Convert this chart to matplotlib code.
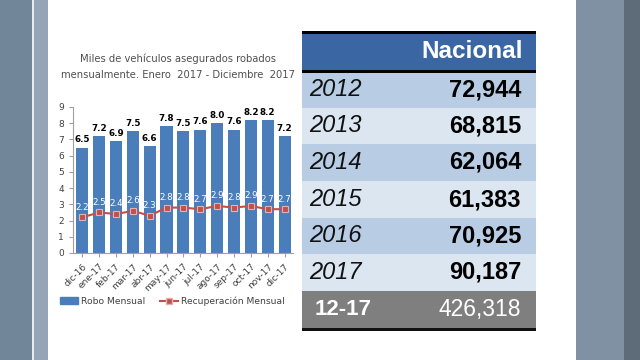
import matplotlib
matplotlib.use("Agg")
import matplotlib.pyplot as plt
from matplotlib.patches import Rectangle
from matplotlib.lines import Line2D

# chart data
months = ["dic-16", "ene-17", "feb-17", "mar-17", "abr-17", "may-17", "jun-17",
          "jul-17", "ago-17", "sep-17", "oct-17", "nov-17", "dic-17"]
robo = [6.5, 7.2, 6.9, 7.5, 6.6, 7.8, 7.5, 7.6, 8.0, 7.6, 8.2, 8.2, 7.2]
recup = [2.2, 2.5, 2.4, 2.6, 2.3, 2.8, 2.8, 2.7, 2.9, 2.8, 2.9, 2.7, 2.7]

# table data
years = ["2012", "2013", "2014", "2015", "2016", "2017"]
nacional = [72944, 68815, 62064, 61383, 70925, 90187]
total_label = "12-17"
total_value = 426318

W, H = 640, 360
fig = plt.figure(figsize=(6.4, 3.6), dpi=100)
fig.patch.set_facecolor("white")

def fx(px):
    return px / W

def fy(py):
    return 1 - py / H

def frect(x0, y0, x1, y1, color):
    fig.patches.append(Rectangle((fx(x0), fy(y1)), fx(x1 - x0), (y1 - y0) / H,
                                 transform=fig.transFigure, color=color, lw=0, zorder=0))

# slide background strips
frect(0, 0, 32, H, "#72869a")
frect(32, 0, 33.5, H, "#e8ecf0")
frect(33.5, 0, 48, H, "#95a5b5")
frect(576, 0, 624, H, "#7f91a3")
frect(624, 0, W, H, "#5e6b78")

# ---- bar chart ----
ax = fig.add_axes([fx(73), fy(253), fx(293) - fx(73), (253 - 107) / H])
x = range(len(months))
ax.bar(x, robo, width=0.72, color="#4a7ebb", zorder=2)
ax.plot(x, recup, color="#c0504d", lw=1.5, marker="s", ms=5,
        markerfacecolor="#c0504d", markeredgecolor="#e6b0ae", mew=0.8, zorder=3)
for i, v in enumerate(robo):
    ax.text(i, v + 0.2, f"{v:.1f}", ha="center", va="bottom", fontsize=6.3,
            fontweight="bold", color="black")
for i, v in enumerate(recup):
    ax.text(i, v + 0.35, f"{v:.1f}", ha="center", va="bottom", fontsize=6.3,
            color="white")
ax.set_ylim(0, 9)
ax.set_xlim(-0.55, 12.5)
ax.set_yticks(range(10))
ax.set_xticks(list(x))
ax.set_xticklabels(months, rotation=45, ha="right", rotation_mode="anchor",
                   fontsize=6.5, color="#404040")
ax.tick_params(axis="y", labelsize=6.5, labelcolor="#404040", length=3, color="#a0a0a0")
ax.tick_params(axis="x", length=3, color="#a0a0a0")
for s in ["top", "right"]:
    ax.spines[s].set_visible(False)
for s in ["left", "bottom"]:
    ax.spines[s].set_color("#a0a0a0")
    ax.spines[s].set_linewidth(0.8)

fig.text(fx(178), fy(67), "Miles de vehículos asegurados robados\nmensualmente. Enero  2017 - Diciembre  2017",
         ha="center", va="center", fontsize=7.2, color="#505050", linespacing=1.7)

handles = [Rectangle((0, 0), 1, 1, color="#4a7ebb"),
           Line2D([0], [0], color="#c0504d", lw=1.5, marker="s", ms=4,
                  markerfacecolor="#c0504d", markeredgecolor="#e6b0ae")]
fig.legend(handles, ["Robo Mensual", "Recuperación Mensual"], loc="center",
           bbox_to_anchor=(fx(172), fy(301)), ncol=2, frameon=False, fontsize=6.6,
           handlelength=2.0, handletextpad=0.3, columnspacing=1.6, labelcolor="#404040")

# ---- table ----
tx0, tx1 = 302, 536
frect(tx0, 31, tx1, 33.5, "black")
frect(tx0, 33.5, tx1, 70, "#3a67a3")
frect(tx0, 70, tx1, 72.5, "black")
fig.text(fx(523), fy(52), "Nacional", ha="right", va="center", fontsize=17.5,
         fontweight="bold", color="white", family="Liberation Sans")

row_top = [72.5, 107.5, 143.5, 181, 218, 254]
row_bot = [107.5, 143.5, 181, 218, 254, 291]
for i, (yr, val) in enumerate(zip(years, nacional)):
    col = "#b8cce4" if i % 2 == 0 else "#dce6f1"
    frect(tx0, row_top[i], tx1, row_bot[i], col)
    yc = (row_top[i] + row_bot[i]) / 2
    fig.text(fx(309), fy(yc), yr, ha="left", va="center", fontsize=17,
             style="italic", color="#111111", family="Liberation Sans")
    fig.text(fx(521), fy(yc), f"{val:,}", ha="right", va="center", fontsize=17,
             fontweight="bold", color="black", family="Liberation Sans")

frect(tx0, 291, tx1, 328, "#7f7f7f")
frect(tx0, 328, tx1, 331, "#111111")
fig.text(fx(315), fy(309.5), total_label, ha="left", va="center", fontsize=16,
         fontweight="bold", color="white", family="Liberation Sans")
fig.text(fx(521), fy(309.5), f"{total_value:,}", ha="right", va="center", fontsize=16.5,
         color="white", family="Liberation Sans")

fig.savefig("out.png", dpi=100)
